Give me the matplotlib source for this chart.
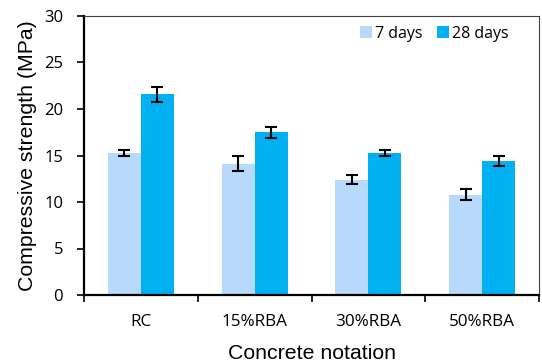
import numpy as np
import matplotlib.pyplot as plt

plt.rcParams['font.family'] = ['Open Sans', 'DejaVu Sans']

# compressive strength of concrete mixes (MPa), mean and std
mixes = ["RC", "15%RBA", "30%RBA", "50%RBA"]
days7 = [15.3, 14.1, 12.4, 10.8]
days7_err = [0.3, 0.8, 0.45, 0.6]
days28 = [21.6, 17.5, 15.3, 14.4]
days28_err = [0.8, 0.6, 0.3, 0.5]

c7 = "#b6d9fc"
c28 = "#00b0f0"

fig = plt.figure(figsize=(5.42, 3.64), dpi=100)
ax = fig.add_axes([84 / 542, 69 / 364, 455 / 542, 279 / 364])

x = np.arange(len(mixes)) + 0.5
w = 0.29
err_kw = dict(ecolor="black", elinewidth=1.5, capsize=4.5, capthick=1.5)
ax.bar(x - w / 2, days7, w, color=c7, label="7 days",
       yerr=days7_err, error_kw=err_kw, zorder=2)
ax.bar(x + w / 2, days28, w, color=c28, label="28 days",
       yerr=days28_err, error_kw=err_kw, zorder=2)

ax.set_xlim(0, len(mixes))
ax.set_ylim(0, 30)
ax.set_yticks(np.arange(0, 31, 5))
ax.set_xticks(np.arange(len(mixes) + 1))
ax.set_xticklabels([])
ax.set_xticks(x, minor=True)
ax.set_xticklabels(mixes, minor=True, fontsize=12.3)
ax.tick_params(axis="x", which="major", direction="out", length=5, width=1.2)
ax.tick_params(axis="x", which="minor", length=0, pad=14)
ax.tick_params(axis="y", direction="out", length=5, width=1.2,
               labelsize=12, pad=10)

for s in ("left", "bottom"):
    ax.spines[s].set_linewidth(1.6)
for s in ("top", "right"):
    ax.spines[s].set_linewidth(0.8)
    ax.spines[s].set_color("#404040")

lab_font = dict(family="Liberation Sans", fontsize=15.3)
ax.set_ylabel("Compressive strength (MPa)", labelpad=5, **lab_font)
ax.set_xlabel("Concrete notation", labelpad=10, **lab_font)

ax.legend(loc="upper right", ncol=2, frameon=False, fontsize=11.5,
          handlelength=0.75, handleheight=0.75, handletextpad=0.2,
          columnspacing=0.9, borderaxespad=0.2, bbox_to_anchor=(0.955, 1.0))

fig.savefig("out.png", dpi=100)
